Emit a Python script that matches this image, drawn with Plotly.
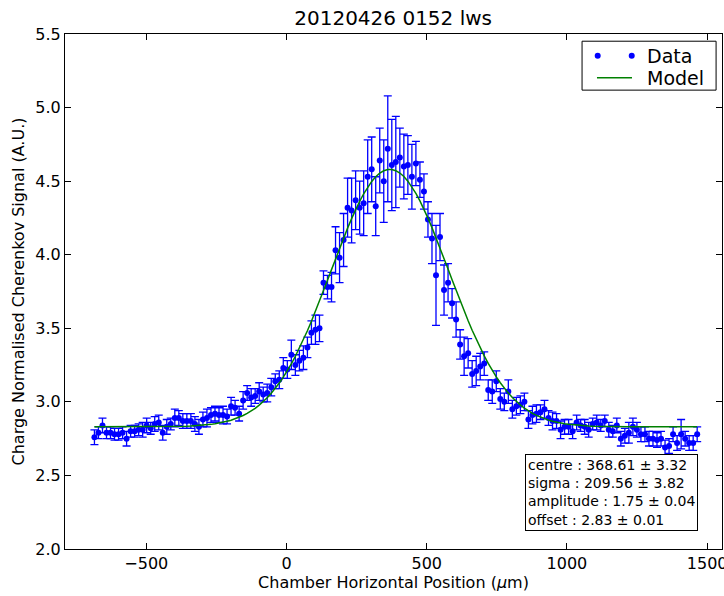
import numpy as np
import plotly.graph_objects as go

# Scan positions (µm): 151 evenly spaced steps
x_start = -685.0
x_step = 14.33
n_points = 151
positions = [round(x_start + i * x_step, 2) for i in range(n_points)]

signal = [
    2.76, 2.79, 2.84, 2.79, 2.79, 2.78, 2.78, 2.79, 2.75, 2.80,
    2.80, 2.81, 2.81, 2.84, 2.82, 2.85, 2.86, 2.79, 2.83, 2.85,
    2.89, 2.89, 2.87, 2.87, 2.87, 2.85, 2.83, 2.88, 2.89, 2.91,
    2.92, 2.91, 2.91, 2.90, 2.97, 2.96, 2.92, 3.01, 3.06, 3.03,
    3.04, 3.07, 3.05, 3.06, 3.10, 3.14, 3.15, 3.23, 3.22, 3.32,
    3.25, 3.28, 3.30, 3.37, 3.47, 3.49, 3.50, 3.81, 3.78, 3.78,
    4.03, 3.98, 4.10, 4.32, 4.30, 4.37, 4.32, 4.35, 4.53, 4.58,
    4.33, 4.64, 4.50, 4.72, 4.61, 4.63, 4.66, 4.60, 4.61, 4.53,
    4.62, 4.51, 4.43, 4.24, 4.11, 3.86, 4.12, 3.76, 3.81, 3.67,
    3.56, 3.39, 3.31, 3.33, 3.19, 3.21, 3.24, 3.26, 3.08, 3.07,
    3.14, 3.02, 3.00, 3.07, 2.95, 2.97, 2.98, 3.00, 2.88, 2.91,
    2.92, 2.93, 2.95, 2.89, 2.87, 2.87, 2.81, 2.83, 2.83, 2.80,
    2.86, 2.84, 2.83, 2.81, 2.85, 2.86, 2.84, 2.87, 2.81, 2.80,
    2.84, 2.75, 2.77, 2.79, 2.83, 2.81, 2.78, 2.78, 2.75, 2.75,
    2.74, 2.75, 2.69, 2.70, 2.78, 2.72, 2.78, 2.75, 2.72, 2.72,
    2.78,
]

signal_err = [
    0.05, 0.04, 0.05, 0.04, 0.04, 0.04, 0.04, 0.04, 0.05, 0.04,
    0.04, 0.04, 0.05, 0.05, 0.04, 0.05, 0.05, 0.05, 0.05, 0.04,
    0.06, 0.05, 0.05, 0.05, 0.05, 0.05, 0.05, 0.05, 0.06, 0.05,
    0.05, 0.05, 0.06, 0.05, 0.06, 0.05, 0.05, 0.06, 0.05, 0.06,
    0.05, 0.06, 0.05, 0.06, 0.06, 0.05, 0.06, 0.07, 0.06, 0.10,
    0.07, 0.07, 0.08, 0.07, 0.08, 0.10, 0.09, 0.08, 0.08, 0.10,
    0.16, 0.17, 0.18, 0.20, 0.22, 0.20, 0.18, 0.22, 0.25, 0.22,
    0.20, 0.22, 0.28, 0.36, 0.31, 0.31, 0.20, 0.22, 0.20, 0.22,
    0.15, 0.12, 0.12, 0.12, 0.17, 0.34, 0.16, 0.17, 0.13, 0.10,
    0.12, 0.10, 0.13, 0.10, 0.09, 0.10, 0.09, 0.08, 0.07, 0.08,
    0.07, 0.07, 0.06, 0.08, 0.06, 0.06, 0.06, 0.06, 0.06, 0.06,
    0.06, 0.05, 0.06, 0.05, 0.06, 0.05, 0.06, 0.05, 0.05, 0.05,
    0.05, 0.04, 0.05, 0.05, 0.04, 0.05, 0.04, 0.04, 0.05, 0.04,
    0.05, 0.05, 0.05, 0.07, 0.06, 0.05, 0.05, 0.05, 0.05, 0.05,
    0.05, 0.05, 0.05, 0.05, 0.05, 0.05, 0.10, 0.05, 0.05, 0.05,
    0.05,
]

# Fit parameters (shown in the box)
centre, centre_err = 368.61, 3.32
sigma, sigma_err = 209.56, 3.82
amplitude, amplitude_err = 1.75, 0.04
offset, offset_err = 2.83, 0.01

x_ticks = [-500, 0, 500, 1000, 1500]
y_ticks = [2.0, 2.5, 3.0, 3.5, 4.0, 4.5, 5.0, 5.5]
legend_labels = ["Data", "Model"]

xs = np.array(positions)
model = offset + amplitude * np.exp(-(xs - centre) ** 2 / (2 * sigma ** 2))

FONT = "DejaVu Sans"
BLUE = "#0000ff"
GREEN = "#008000"

fig = go.Figure()
fig.add_trace(go.Scatter(
    x=positions, y=signal, mode="markers", name=legend_labels[0],
    marker=dict(color=BLUE, size=6),
    error_y=dict(type="data", array=signal_err, visible=True,
                 color=BLUE, thickness=1.3, width=4),
    showlegend=False,
))
fig.add_trace(go.Scatter(
    x=positions, y=model.tolist(), mode="lines", name=legend_labels[1],
    line=dict(color=GREEN, width=1.5), showlegend=False,
))

# ---- hand-drawn legend (matplotlib style: two dots for Data) ----
fig.add_shape(type="rect", xref="paper", yref="paper",
              x0=0.787, x1=0.991, y0=0.891, y1=0.986,
              line=dict(color="black", width=1), fillcolor="white", layer="above")
for px in (0.8108, 0.8626):
    fig.add_shape(type="circle", xref="paper", yref="paper",
                  xsizemode="pixel", ysizemode="pixel",
                  xanchor=px, yanchor=0.9579, x0=-3, x1=3, y0=-3, y1=3,
                  line=dict(color=BLUE, width=0), fillcolor=BLUE, layer="above")
fig.add_shape(type="line", xref="paper", yref="paper",
              x0=0.8097, x1=0.8630, y0=0.9151, y1=0.9151,
              line=dict(color=GREEN, width=1.5), layer="above")
for lab, ly in zip(legend_labels, (0.9579, 0.9151)):
    fig.add_annotation(text=lab, xref="paper", yref="paper", x=0.8828, y=ly,
                       xanchor="left", yanchor="middle", showarrow=False,
                       font=dict(family=FONT, size=19, color="black"))

box_text = (
    f"centre : {centre:.2f} ± {centre_err:.2f}<br>"
    f"sigma : {sigma:.2f} ± {sigma_err:.2f}<br>"
    f"amplitude : {amplitude:.2f} ± {amplitude_err:.2f}<br>"
    f"offset : {offset:.2f} ± {offset_err:.2f}"
)
fig.add_annotation(
    text=box_text, xref="paper", yref="paper", x=0.9635, y=0.035,
    xanchor="right", yanchor="bottom", align="left", showarrow=False,
    font=dict(family=FONT, size=14, color="black"),
    bordercolor="black", borderwidth=1, borderpad=2, bgcolor="white",
)

axis_common = dict(
    showline=True, linecolor="black", linewidth=1, mirror="ticks",
    ticks="inside", ticklen=6, tickcolor="black", showgrid=False,
    zeroline=False, automargin=False, ticklabeloverflow="allow",
    tickfont=dict(family=FONT, size=16, color="black"),
)
fig.update_xaxes(
    range=[-790, 1553], tickvals=x_ticks,
    title=dict(text="Chamber Horizontal Position (<i>μ</i>m)",
               font=dict(family=FONT, size=16, color="black"), standoff=2),
    **axis_common,
)
fig.update_yaxes(
    range=[2.0, 5.5], tickvals=y_ticks, tickformat=".1f",
    title=dict(text="Charge Normalised Cherenkov Signal (A.U.)",
               font=dict(family=FONT, size=16, color="black"), standoff=6),
    **axis_common,
)
fig.update_layout(
    width=724, height=596,
    margin=dict(l=65, r=2, t=34, b=47, autoexpand=False),
    plot_bgcolor="white", paper_bgcolor="white",
    title=dict(text="20120426 0152 lws", x=0.543, xanchor="center",
               y=0.97, yanchor="middle",
               font=dict(family=FONT, size=20, color="black")),
    showlegend=False,
)
fig.write_html(
    "out.html",
    config={"displayModeBar": False},
    post_script="document.body.style.margin='0';document.body.style.padding='0';"
                "document.body.style.overflow='hidden';",
)
